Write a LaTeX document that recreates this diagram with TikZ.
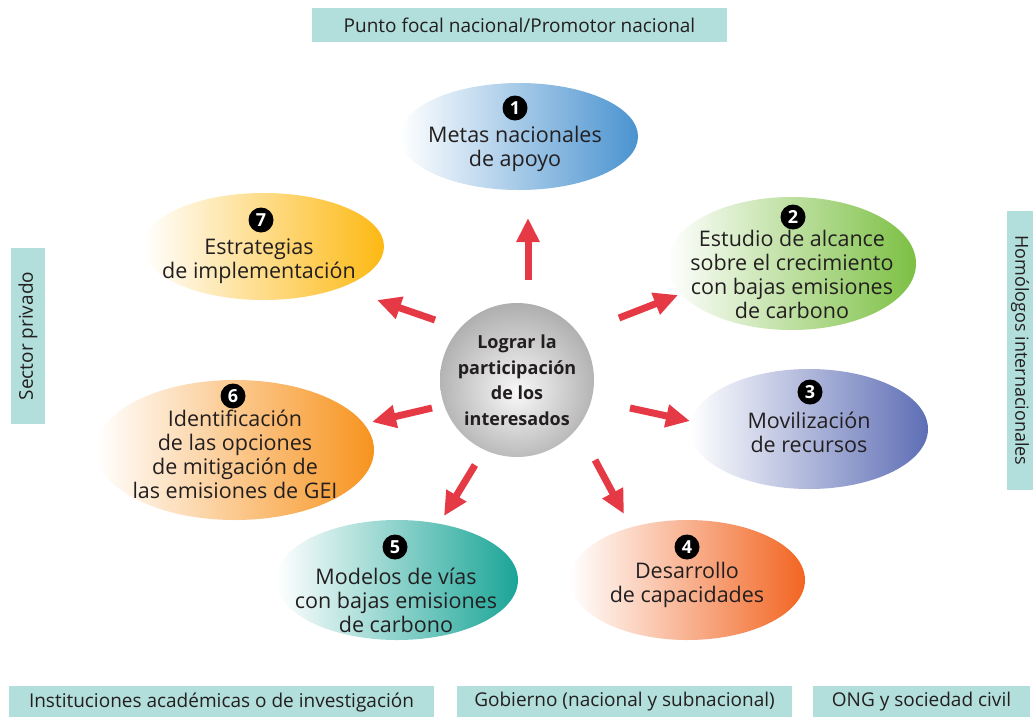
\documentclass[tikz,border=0pt]{standalone}
\usepackage{fontspec}
\setmainfont{Open Sans}
\usetikzlibrary{shapes.geometric,arrows.meta}
\definecolor{boxc}{HTML}{B2DFDB}
\definecolor{arrc}{HTML}{E53A45}
\definecolor{cA}{HTML}{4A93D0}
\definecolor{cB}{HTML}{7CC043}
\definecolor{cC}{HTML}{5E6EB5}
\definecolor{cD}{HTML}{F26522}
\definecolor{cE}{HTML}{1AA597}
\definecolor{cF}{HTML}{F7931E}
\definecolor{cG}{HTML}{FDB913}
\definecolor{txt}{HTML}{231F20}
\pgfdeclareradialshading{grayball}{\pgfpoint{0bp}{-4bp}}{color(0bp)=(white!95!gray); color(28bp)=(gray!65); color(50bp)=(black!55); color(60bp)=(black!55)}
\tikzset{
  lbl/.style={fill=boxc, inner sep=0pt, text=txt, font=\fontsize{19pt}{22pt}\selectfont},
  ell/.style={ellipse, inner sep=0pt, draw=none},
  badge/.style={circle, fill=black, text=white, inner sep=0pt, minimum size=25pt, font=\bfseries\fontsize{18pt}{18pt}\selectfont},
  etext/.style={align=center, text=txt, font=\fontsize{21.5pt}{24pt}\selectfont},
  arr/.style={draw=arrc, line width=7pt, -{Triangle[width=22pt,length=24pt]}}
}
\begin{document}
\begin{tikzpicture}[x=1pt,y=-1pt]
\useasboundingbox (0,0) rectangle (1034,716);
% label boxes
\node[lbl, minimum width=415pt, minimum height=34pt] (top) at (519.5,25) {Punto focal nacional/Promotor nacional};
\node[lbl, minimum width=176pt, minimum height=34pt, rotate=90] (left) at (28,336) {Sector privado};
\node[lbl, minimum width=279pt, minimum height=26pt, rotate=-90, font=\fontsize{18pt}{20pt}\selectfont] (right) at (1020,350.5) {Homólogos internacionales};
\node[lbl, minimum width=425pt, minimum height=32pt] (b1) at (221.5,702) {Instituciones académicas o de investigación};
\node[lbl, minimum width=335pt, minimum height=32pt] (b2) at (624.5,702) {Gobierno (nacional y subnacional)};
\node[lbl, minimum width=217pt, minimum height=32pt] (b3) at (921.5,702) {ONG y sociedad civil};
% ellipses
\node[ell, minimum width=238pt, minimum height=107pt, left color=white, right color=cA] (e1) at (519,136.5) {};
\node[ell, minimum width=249pt, minimum height=133pt, left color=white, right color=cB] (e2) at (791.5,263.5) {};
\node[ell, minimum width=238pt, minimum height=120pt, left color=white, right color=cC] (e3) at (809,429) {};
\node[ell, minimum width=235pt, minimum height=120pt, left color=white, right color=cD] (e4) at (687.5,580) {};
\node[ell, minimum width=242pt, minimum height=120pt, left color=white, right color=cE] (e5) at (397,580) {};
\node[ell, minimum width=278pt, minimum height=140pt, left color=white, right color=cF] (e6) at (235,450) {};
\node[ell, minimum width=241pt, minimum height=107pt, left color=white, right color=cG] (e7) at (263.5,246.5) {};
% badges
\node[badge] (n1) at (515,108) {1};
\node[badge] (n2) at (793,217) {2};
\node[badge] (n3) at (810,392) {3};
\node[badge] (n4) at (687,547) {4};
\node[badge] (n5) at (395,547) {5};
\node[badge] (n6) at (233,396) {6};
\node[badge] (n7) at (261,220) {7};
% texts
\node[etext] (t1) at (515,149) {Metas nacionales\\de apoyo};
\node[etext] (t2) at (792,274) {Estudio de alcance\\sobre el crecimiento\\con bajas emisiones\\de carbono};
\node[etext] (t3) at (809,432) {Movilización\\de recursos};
\node[etext] (t4) at (687,585) {Desarrollo\\de capacidades};
\node[etext] (t5) at (396,600) {Modelos de vías\\con bajas emisiones\\de carbono};
\node[etext] (t6) at (235,454) {Identificación\\de las opciones\\de mitigación de\\las emisiones de GEI};
\node[etext] (t7) at (259,261) {Estrategias\\de implementación};
% center
\node[circle, minimum size=154pt, inner sep=0pt, shading=grayball, align=center, text=txt,
      font=\bfseries\fontsize{18pt}{25.5pt}\selectfont] (c) at (517,380) {Lograr la\\participación\\de los\\interesados};
% arrows
\coordinate (a1s) at (528,280); \coordinate (a1e) at (528,218);
\coordinate (a2s) at (619,318); \coordinate (a2e) at (678,295);
\coordinate (a3s) at (630,408); \coordinate (a3e) at (690,421);
\coordinate (a4s) at (595,460); \coordinate (a4e) at (624,514);
\coordinate (a5s) at (475,465); \coordinate (a5e) at (444,516);
\coordinate (a6s) at (432,408); \coordinate (a6e) at (372,422);
\coordinate (a7s) at (435,320); \coordinate (a7e) at (377,300);
\draw[arr] (a1s) -- (a1e);
\draw[arr] (a2s) -- (a2e);
\draw[arr] (a3s) -- (a3e);
\draw[arr] (a4s) -- (a4e);
\draw[arr] (a5s) -- (a5e);
\draw[arr] (a6s) -- (a6e);
\draw[arr] (a7s) -- (a7e);
\end{tikzpicture}
\end{document}
